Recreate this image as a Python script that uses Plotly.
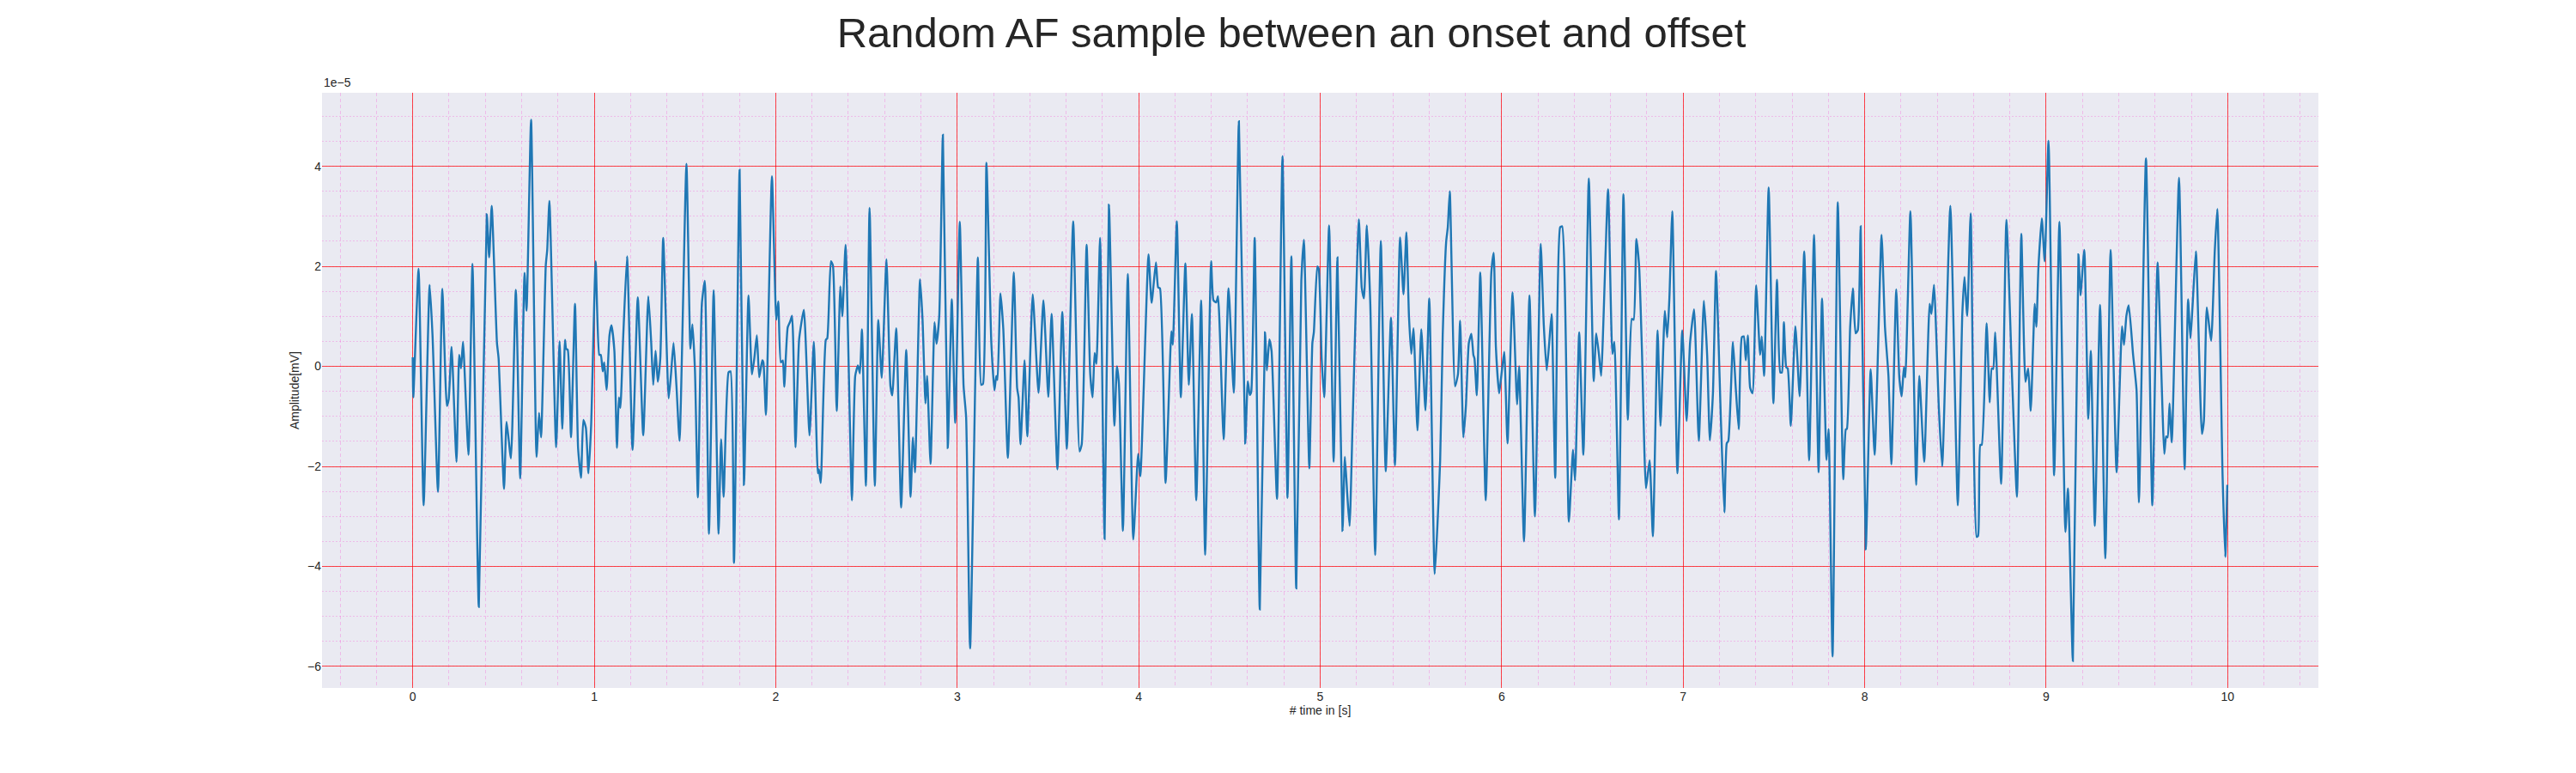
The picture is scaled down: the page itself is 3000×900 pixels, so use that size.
# IMPORT LIBRARIES
import plotly.graph_objects as go

# Sample: time in seconds, amplitude in units of 1e-5 mV
time_s = [
    0.000, 0.003, 0.032, 0.060, 0.093, 0.109, 0.139, 0.163, 0.188, 0.198, 0.214, 0.241, 0.256, 0.266, 0.277,
    0.307, 0.329, 0.364, 0.408, 0.421, 0.435, 0.464, 0.473, 0.503, 0.517, 0.541, 0.568, 0.592, 0.616, 0.627,
    0.652, 0.682, 0.696, 0.707, 0.733, 0.741, 0.753, 0.790, 0.809, 0.824, 0.839, 0.845, 0.854, 0.872, 0.894,
    0.911, 0.927, 0.940, 0.954, 0.968, 0.983, 1.008, 1.028, 1.036, 1.047, 1.055, 1.068, 1.084, 1.095, 1.111,
    1.125, 1.136, 1.144, 1.160, 1.181, 1.211, 1.240, 1.270, 1.298, 1.314, 1.325, 1.338, 1.350, 1.364, 1.380,
    1.410, 1.423, 1.437, 1.453, 1.470, 1.508, 1.530, 1.541, 1.555, 1.571, 1.593, 1.609, 1.632, 1.658, 1.685,
    1.699, 1.713, 1.740, 1.751, 1.770, 1.801, 1.825, 1.850, 1.869, 1.882, 1.896, 1.909, 1.926, 1.932, 1.946,
    1.979, 2.003, 2.014, 2.028, 2.039, 2.047, 2.066, 2.079, 2.090, 2.109, 2.129, 2.155, 2.186, 2.210, 2.232,
    2.238, 2.248, 2.276, 2.284, 2.304, 2.315, 2.336, 2.356, 2.367, 2.385, 2.420, 2.438, 2.453, 2.464, 2.475,
    2.497, 2.517, 2.546, 2.565, 2.584, 2.610, 2.632, 2.642, 2.664, 2.691, 2.719, 2.743, 2.756, 2.767, 2.795,
    2.809, 2.825, 2.834, 2.853, 2.875, 2.886, 2.901, 2.921, 2.948, 2.970, 2.989, 3.014, 3.035, 3.049, 3.071,
    3.114, 3.132, 3.142, 3.161, 3.188, 3.205, 3.215, 3.222, 3.238, 3.254, 3.279, 3.312, 3.330, 3.338, 3.349,
    3.371, 3.386, 3.416, 3.448, 3.475, 3.502, 3.520, 3.552, 3.579, 3.604, 3.639, 3.674, 3.686, 3.713, 3.733,
    3.746, 3.757, 3.767, 3.787, 3.812, 3.836, 3.866, 3.880, 3.891, 3.913, 3.940, 3.970, 3.997, 4.009, 4.054,
    4.071, 4.095, 4.107, 4.117, 4.148, 4.180, 4.188, 4.210, 4.232, 4.257, 4.276, 4.293, 4.317, 4.344, 4.366,
    4.399, 4.412, 4.427, 4.437, 4.468, 4.495, 4.524, 4.552, 4.587, 4.601, 4.612, 4.620, 4.639, 4.667, 4.696,
    4.706, 4.720, 4.732, 4.762, 4.792, 4.820, 4.841, 4.868, 4.896, 4.910, 4.940, 4.957, 4.965, 4.984, 4.992,
    5.008, 5.022, 5.049, 5.074, 5.095, 5.123, 5.136, 5.150, 5.162, 5.178, 5.213, 5.229, 5.241, 5.257, 5.276,
    5.303, 5.334, 5.361, 5.390, 5.412, 5.440, 5.459, 5.475, 5.489, 5.502, 5.514, 5.536, 5.557, 5.580, 5.601,
    5.631, 5.661, 5.675, 5.694, 5.703, 5.714, 5.743, 5.759, 5.771, 5.789, 5.803, 5.819, 5.833, 5.844, 5.850,
    5.863, 5.882, 5.912, 5.943, 5.956, 5.968, 5.986, 6.000, 6.014, 6.032, 6.060, 6.085, 6.096, 6.123, 6.153,
    6.183, 6.215, 6.232, 6.248, 6.261, 6.275, 6.295, 6.322, 6.333, 6.370, 6.393, 6.404, 6.427, 6.450, 6.480,
    6.507, 6.521, 6.536, 6.548, 6.586, 6.610, 6.621, 6.646, 6.671, 6.695, 6.717, 6.727, 6.742, 6.757, 6.773,
    6.795, 6.815, 6.833, 6.859, 6.875, 6.899, 6.912, 6.924, 6.940, 6.968, 6.995, 7.019, 7.038, 7.060, 7.086,
    7.114, 7.132, 7.147, 7.164, 7.181, 7.208, 7.227, 7.240, 7.249, 7.274, 7.289, 7.306, 7.323, 7.334, 7.345,
    7.356, 7.369, 7.382, 7.402, 7.424, 7.433, 7.446, 7.471, 7.497, 7.517, 7.535, 7.544, 7.555, 7.568, 7.576,
    7.593, 7.618, 7.642, 7.667, 7.694, 7.721, 7.746, 7.765, 7.790, 7.801, 7.823, 7.852, 7.882, 7.896, 7.902,
    7.920, 7.935, 7.950, 7.962, 7.978, 8.006, 8.033, 8.055, 8.093, 8.112, 8.131, 8.147, 8.174, 8.191, 8.204,
    8.216, 8.224, 8.252, 8.284, 8.301, 8.328, 8.358, 8.368, 8.382, 8.409, 8.427, 8.472, 8.513, 8.538, 8.550,
    8.565, 8.584, 8.617, 8.625, 8.637, 8.645, 8.672, 8.689, 8.700, 8.708, 8.719, 8.752, 8.781, 8.812, 8.839,
    8.863, 8.886, 8.901, 8.915, 8.937, 8.946, 8.957, 8.976, 8.992, 9.013, 9.044, 9.073, 9.106, 9.120, 9.147,
    9.178, 9.189, 9.210, 9.232, 9.246, 9.268, 9.297, 9.326, 9.355, 9.388, 9.418, 9.429, 9.442, 9.455, 9.479,
    9.498, 9.511, 9.550, 9.585, 9.614, 9.651, 9.661, 9.669, 9.680, 9.692, 9.732, 9.763, 9.782, 9.795, 9.806,
    9.825, 9.858, 9.869, 9.885, 9.909, 9.929, 9.943, 9.972, 9.987, 9.998,
]

amplitude = [
    0.18, -0.62, 1.95, -2.78, 1.63, 0.62, -2.51, 1.55, -0.79, -0.66, 0.39, -1.91, 0.23, -0.04, 0.49,
    -1.77, 2.05, -4.81, 3.04, 2.18, 3.21, 0.47, 0.16, -2.45, -1.11, -1.84, 1.53, -2.24, 1.87, 1.11,
    4.93, -1.81, -0.93, -1.42, 2.02, 2.33, 3.31, -1.62, 0.50, -1.25, 0.53, 0.35, 0.33, -1.42, 1.25,
    -1.63, -2.23, -1.07, -1.23, -2.14, -1.17, 2.10, 0.23, 0.23, -0.10, 0.08, -0.47, 0.62, 0.82, 0.31,
    -1.63, -0.62, -0.83, 0.62, 2.20, -1.67, 1.38, -1.38, 1.40, 0.47, -0.37, 0.31, -0.31, 0.16, 2.57,
    -0.64, -0.16, 0.47, -0.39, -1.49, 4.05, 0.35, 0.84, -0.08, -2.62, 1.25, 1.71, -3.35, 1.52, -3.35,
    -1.46, -2.61, -0.12, -0.10, -3.93, 3.93, -2.37, 1.42, -0.16, 0.16, 0.62, -0.22, 0.12, 0.08, -0.97,
    3.80, 0.93, 1.30, 0.08, 0.12, -0.41, 0.78, 0.89, 1.01, -1.62, 0.54, 1.13, -1.38, 0.49, -2.14,
    -2.06, -2.33, 0.53, 0.56, 2.10, 2.02, -0.89, 1.60, 1.00, 2.43, -2.68, -0.19, 0.02, -0.14, 0.74,
    -2.39, 3.17, -2.39, 0.93, -0.23, 2.14, -0.39, -0.58, 0.76, -2.82, 0.33, -2.61, -1.42, -2.12, 1.74,
    0.93, -0.74, -0.19, -1.95, 0.88, 0.45, 1.01, 4.63, -1.63, 1.34, -1.13, 2.89, -0.39, -1.01, -5.64,
    2.18, -0.37, -0.35, 4.07, 0.47, -0.48, -0.19, -0.27, 1.46, 0.74, -1.83, 1.88, -0.43, -0.62, -1.56,
    0.12, -1.40, 1.44, -0.53, 1.32, -0.61, 1.05, -2.06, 1.09, -1.65, 2.90, -1.70, -1.56, 2.43, -0.16,
    -0.62, 0.27, 0.05, 2.57, -3.45, 3.23, -1.19, 0.00, -0.35, -3.29, 1.85, -3.46, -1.75, -2.20, 2.24,
    1.27, 2.08, 1.58, 1.56, -2.33, 0.70, 0.43, 2.90, -0.62, 2.06, -0.37, 1.05, -2.68, 1.32, -3.77,
    2.10, 1.32, 1.28, 1.40, -1.46, 1.56, -0.53, 4.90, -1.54, -0.30, -0.57, -0.51, 2.57, -4.86, 0.68,
    -0.08, 0.54, 0.31, -2.65, 4.20, -2.63, 2.20, -4.44, 1.71, 2.53, -2.04, 0.47, 0.68, 2.00, 1.95,
    0.16, -0.62, 2.82, -1.91, 2.18, -3.29, -1.81, -2.61, -3.19, -1.21, 2.94, 1.57, 1.36, 2.82, 1.25,
    -3.77, 2.51, -2.10, 0.97, -1.98, 2.58, 1.44, 2.68, 1.01, 0.25, 0.76, -1.28, 0.74, -0.88, 1.36,
    -4.15, -1.87, 0.62, 2.49, 2.78, 3.50, -0.40, -0.16, 0.91, -1.42, -0.78, 0.47, 0.65, 0.23, 0.16,
    -0.58, 1.88, -2.68, 1.88, 2.27, 0.39, -0.54, -0.12, 0.29, -1.54, 1.48, -0.76, 0.00, -3.50, 1.42,
    -3.00, 2.45, 0.82, -0.08, 0.43, 1.05, -2.23, 2.78, 2.80, -3.11, -1.67, -2.28, 0.68, -1.77, 3.76,
    -0.30, 0.66, 0.23, -0.19, 3.54, 0.25, 0.49, -3.06, 3.44, -1.07, 0.95, 0.93, 2.55, 2.02, 0.29,
    -2.44, -1.88, -3.40, 0.72, -1.19, 1.11, 0.58, 1.36, 3.10, -2.14, 0.72, -1.09, 0.47, 1.14, -1.49,
    1.31, 0.23, -1.48, -0.54, 1.91, -1.09, -2.92, -1.54, -1.49, 0.49, -0.39, -1.26, 0.58, 0.60, 0.12,
    0.62, -0.43, -0.54, 1.62, 0.23, 0.60, -0.19, 3.58, -0.74, 1.73, -0.12, -0.12, 0.88, -0.02, -0.04,
    -1.19, 0.80, -0.60, 2.30, -1.88, 2.63, -2.12, 1.36, -1.87, -1.25, -5.80, 3.28, -2.26, -1.26, -1.25,
    0.78, 1.56, 0.66, 0.72, 2.80, -3.66, -0.06, -1.77, 2.63, 0.78, -0.19, -1.96, 1.54, -0.23, -0.60,
    -0.02, -0.22, 3.10, -2.37, -0.19, -1.91, 1.25, 1.05, 1.63, -0.86, -2.00, 3.21, -2.78, 1.05, 1.79,
    1.01, 3.06, -3.41, -3.39, -1.57, -1.57, 0.86, -0.72, -0.04, -0.05, 0.68, -2.35, 2.93, -0.20, -2.61,
    2.65, -0.31, -0.04, -0.89, 1.25, 0.79, 1.95, 2.96, 2.10, 4.51, -2.18, 2.89, -3.31, -2.44, -5.89,
    2.24, 1.42, 2.33, -1.05, 0.31, -3.19, 1.23, -3.84, 2.33, -2.12, 0.80, 0.43, 1.01, 1.22, 0.23,
    -0.47, -2.72, 4.16, -2.78, 2.08, -1.75, -1.40, -1.42, -0.74, -1.52, 3.77, -2.06, 1.34, 0.56, 1.17,
    2.30, -1.35, -1.09, 1.18, 0.51, 2.30, 3.15, -2.18, -3.81, -2.37,
]

x_ticks = list(range(0, 11))
y_ticks = [-6, -4, -2, 0, 2, 4]

# matplotlib style auto limits: 5% margin around the data
lo, hi = min(amplitude), max(amplitude)
pad = 0.05 * (hi - lo)
y_range = [lo - pad, hi + pad]

major_grid = 'rgba(255, 0, 0, 0.7)'
minor_grid = 'rgba(255, 0, 200, 0.2)'
text_color = '#262626'
font_family = 'Liberation Sans, Arial, sans-serif'

# the html page puts the figure 8px in from the top left corner,
# so the figure is 8px smaller and the left/top margins 8px less
fig_w, fig_h = 2992, 892

fig = go.Figure(go.Scatter(x=time_s, y=amplitude, mode='lines',
                           line=dict(color='#1f77b4', width=2.4, shape='spline', smoothing=0.5)))

fig.update_layout(
    width=fig_w,
    height=fig_h,
    showlegend=False,
    paper_bgcolor='white',
    plot_bgcolor='#EAEAF2',
    margin=dict(l=367, r=300, t=100, b=99),
    font=dict(family=font_family, size=14, color=text_color),
    title=dict(text='Random AF sample between an onset and offset',
               x=0.5, xanchor='center', y=1 - 30 / fig_h, yanchor='middle',
               font=dict(size=49, color=text_color)),
)

fig.update_xaxes(
    range=[-0.5, 10.5],
    tickvals=x_ticks,
    ticks='', showline=False, zeroline=False,
    showgrid=True, gridcolor=major_grid, gridwidth=1,
    minor=dict(dtick=0.2, tick0=0, showgrid=True, gridcolor=minor_grid, griddash='4px,3px', gridwidth=1),
    tickfont=dict(size=14),
    title=dict(text='# time in [s]', font=dict(size=14), standoff=4),
)

fig.update_yaxes(
    range=y_range,
    tickvals=y_ticks,
    ticks='', showline=False, zeroline=False,
    showgrid=True, gridcolor=major_grid, gridwidth=1,
    minor=dict(dtick=0.5, tick0=0, showgrid=True, gridcolor=minor_grid, griddash='2px,2px', gridwidth=1),
    tickfont=dict(size=14),
    title=dict(text='Amplitude[mV]', font=dict(size=14), standoff=6),
)

# offset text of the scaled axis
fig.add_annotation(text='1e\u22125', xref='paper', yref='paper', x=0, y=1,
                   xanchor='left', yanchor='bottom', yshift=2, showarrow=False,
                   font=dict(size=14, color=text_color))

fig.write_html("out.html")
